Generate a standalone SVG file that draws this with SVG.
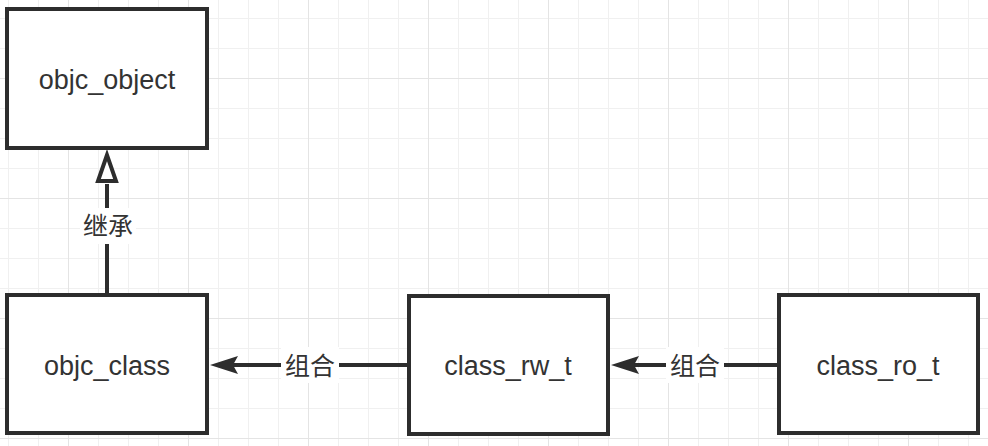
<svg xmlns="http://www.w3.org/2000/svg" width="988" height="446" viewBox="0 0 988 446">
<style>
.box{fill:#fff;stroke:#2d2d2d;stroke-width:4}
.lbl{font-family:"Liberation Sans","Noto Sans CJK SC",sans-serif;font-size:27px;fill:#333;text-anchor:middle;dominant-baseline:central}
.edge{stroke:#2d2d2d;stroke-width:4;fill:none}
.el{font-family:"Liberation Sans","Noto Sans CJK SC",sans-serif;font-size:25px;fill:#333;text-anchor:middle;dominant-baseline:central}
</style>
<defs>
<pattern id="minor" x="8" y="18" width="30" height="30" patternUnits="userSpaceOnUse">
<path d="M0.5 0V30M0 0.5H30" stroke="#f0f0f0" stroke-width="1" fill="none"/>
</pattern>
<pattern id="major" x="68" y="78" width="120" height="120" patternUnits="userSpaceOnUse">
<path d="M0.5 0V120M0 0.5H120" stroke="#e4e4e4" stroke-width="1" fill="none"/>
</pattern>
</defs>
<rect width="988" height="446" fill="#fff"/>
<rect width="988" height="446" fill="url(#minor)"/>
<rect width="988" height="446" fill="url(#major)"/>
<g id="connectors">
<g id="e-inherit">
<line class="edge" x1="107" y1="295" x2="107" y2="184"/>
<path d="M107 155L98 181H116Z" fill="#fff" stroke="#2d2d2d" stroke-width="4" stroke-linejoin="miter"/>
<rect x="80" y="208" width="56" height="36" fill="#fff"/>
<text class="el" x="108" y="226">继承</text>
</g>
<g id="e-rw">
<line class="edge" x1="409" y1="365" x2="232" y2="365"/>
<path d="M210 365L238 356L233 365L238 374Z" fill="#2d2d2d"/>
<rect x="281" y="347" width="58" height="36" fill="#fff"/>
<text class="el" x="310" y="366">组合</text>
</g>
<g id="e-ro">
<line class="edge" x1="779" y1="365" x2="634" y2="365"/>
<path d="M611 365L639 356L634 365L639 374Z" fill="#2d2d2d"/>
<rect x="666" y="347" width="58" height="36" fill="#fff"/>
<text class="el" x="695" y="366">组合</text>
</g>
</g>
<g id="objc_object">
<rect class="box" x="7" y="9" width="200" height="139"/>
<text class="lbl" x="107" y="80">objc_object</text>
</g>
<g id="objc_class">
<rect class="box" x="7" y="295" width="200" height="138"/>
<text class="lbl" x="107" y="366">objc_class</text>
</g>
<g id="class_rw_t">
<rect class="box" x="409" y="296" width="199" height="138"/>
<text class="lbl" x="508" y="366">class_rw_t</text>
</g>
<g id="class_ro_t">
<rect class="box" x="779" y="295" width="199" height="138"/>
<text class="lbl" x="878" y="366">class_ro_t</text>
</g>
</svg>
